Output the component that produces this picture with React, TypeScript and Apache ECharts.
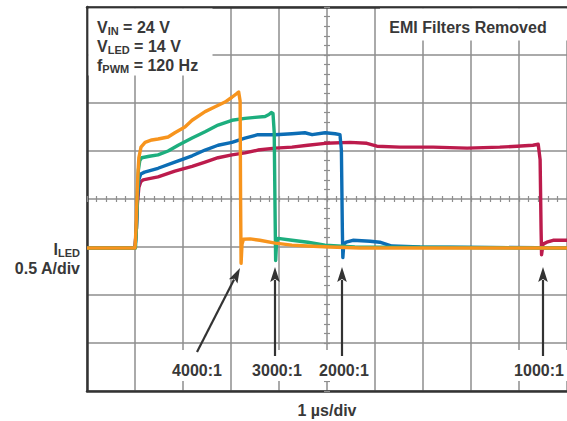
import React, { useEffect, useRef } from "react";
import * as echarts from "echarts";

// time in µs, current in A (0.5 A/div, 1 µs/div)
const orangeTrace: number[][] = [
  [0, -0.01], [1.0, -0.01], [1.02, 0.18], [1.04, 0.49], [1.06, 0.75], [1.08, 0.93], [1.125, 1.04],
  [1.21, 1.09], [1.35, 1.115], [1.48, 1.125], [1.69, 1.146], [1.83, 1.19], [2.04, 1.25], [2.19, 1.32],
  [2.46, 1.41], [2.67, 1.46], [2.875, 1.51], [3.02, 1.56], [3.125, 1.6], [3.16, 1.615], [3.19, 1.52],
  [3.2, 0.49], [3.21, -0.17], [3.23, 0.03], [3.26, 0.08], [3.4, 0.085], [3.6, 0.07], [3.92, 0.04],
  [4.27, 0.02], [4.6, 0.01], [5.06, 0], [5.69, -0.01], [10, -0.01],
];
const greenTrace: number[][] = [
  [0, -0.01], [1.01, -0.01], [1.03, 0.2], [1.05, 0.55], [1.07, 0.8], [1.1, 0.9], [1.14, 0.93],
  [1.3, 0.945], [1.48, 0.96], [1.69, 1.0], [1.9, 1.06], [2.19, 1.135], [2.46, 1.2], [2.73, 1.27],
  [3.02, 1.32], [3.29, 1.34], [3.5, 1.35], [3.71, 1.36], [3.79, 1.38], [3.84, 1.4], [3.875, 1.39],
  [3.9, 1.2], [3.92, 0.28], [3.93, -0.14], [3.95, 0.05], [3.98, 0.09], [4.27, 0.07], [4.6, 0.05],
  [4.96, 0.02], [5.58, 0], [10, -0.01],
];
const blueTrace: number[][] = [
  [0, -0.01], [1.0, -0.01], [1.03, 0.2], [1.05, 0.5], [1.08, 0.7], [1.12, 0.76], [1.2, 0.78],
  [1.48, 0.82], [1.83, 0.885], [2.19, 0.95], [2.46, 1.01], [2.73, 1.06], [3.02, 1.09], [3.29, 1.135],
  [3.56, 1.17], [3.92, 1.17], [4.27, 1.18], [4.54, 1.19], [4.69, 1.17], [4.96, 1.19], [5.17, 1.18],
  [5.27, 1.17], [5.3, 1.01], [5.32, 0.18], [5.33, -0.11], [5.35, 0.03], [5.4, 0.05], [5.54, 0.07],
  [5.9, 0.06], [6.1, 0.05], [6.35, 0.01], [6.94, 0], [10, -0.01],
];
const redTrace: number[][] = [
  [0, -0.01], [1.0, -0.01], [1.03, 0.2], [1.05, 0.45], [1.08, 0.62], [1.12, 0.68], [1.17, 0.7],
  [1.27, 0.71], [1.48, 0.73], [1.83, 0.79], [2.19, 0.84], [2.46, 0.885], [2.73, 0.93], [3.02, 0.96],
  [3.29, 0.98], [3.56, 1.01], [3.92, 1.03], [4.27, 1.04], [4.6, 1.06], [4.96, 1.08], [5.48, 1.09],
  [5.83, 1.08], [6.04, 1.05], [6.52, 1.04], [7.21, 1.04], [7.92, 1.03], [8.6, 1.04], [8.96, 1.05],
  [9.29, 1.06], [9.4, 1.07], [9.44, 0.91], [9.46, 0.18], [9.47, -0.08], [9.5, 0.03], [9.58, 0.05],
  [9.71, 0.07], [10, 0.07],
];

const ratioLabels = ["4000:1", "3000:1", "2000:1", "1000:1"];
const infoMain = ["V", "V", "f"];
const infoSub = ["IN", "LED", "PWM"];
const infoValue = [" = 24 V", " = 14 V", " = 120 Hz"];
const titleText = "EMI Filters Removed";
const xAxisTitle = "1 µs/div";
const yAxisTitleMain = "I";
const yAxisTitleSub = "LED";
const yAxisScale = "0.5 A/div";

const COLORS = { orange: "#F7941D", green: "#1DAE7E", blue: "#0C6DB5", red: "#BC1B4C" };

export default function App() {
  const ref = useRef<HTMLDivElement>(null);
  useEffect(() => {
    const chart = echarts.init(ref.current!, null, { renderer: "svg" });
    const font = "'Liberation Sans', Arial, Helvetica, sans-serif";
    const textColor = "#383838";
    const gridColor = "#8e8e8e";
    const frame = "#333333";
    const hidden = { axisLabel: { show: false }, splitLine: { show: false } };

    const xBase = { type: "value", min: 0, max: 10 };
    const yBase = { type: "value", min: -1.5, max: 2.5 };
    const tickStyle = { color: gridColor, width: 1.2 };

    const richText = (main: string, sub: string, val: string) => ({
      text: `{m|${main}}{s|${sub}}{m|${val}}`,
      rich: {
        m: { fontSize: 16, fontWeight: "bold", fontFamily: font, fill: textColor, lineHeight: 19 },
        s: { fontSize: 11, fontWeight: "bold", fontFamily: font, fill: textColor, lineHeight: 11, verticalAlign: "bottom" },
      },
    });

    const labelStyle = (text: string, align = "center") => ({
      text,
      fontSize: 16,
      fontWeight: "bold",
      fontFamily: font,
      fill: textColor,
      align,
      verticalAlign: "middle",
    });

    const ratioX = [197, 277, 344, 539];
    const arrows = [
      { from: [197, 352], to: [240, 268] },
      { from: [275, 356], to: [275, 267] },
      { from: [342, 356], to: [342, 267] },
      { from: [543, 356], to: [543, 267] },
    ];

    const arrowGraphics: any[] = [];
    arrows.forEach((a) => {
      const dx = a.to[0] - a.from[0];
      const dy = a.to[1] - a.from[1];
      const len = Math.hypot(dx, dy);
      const ux = dx / len, uy = dy / len;
      const headLen = 15, headHalf = 4.8;
      const bx = a.to[0] - ux * headLen, by = a.to[1] - uy * headLen;
      const px = -uy * headHalf, py = ux * headHalf;
      arrowGraphics.push({
        type: "line",
        z: 20,
        shape: { x1: a.from[0], y1: a.from[1], x2: bx + ux * 2, y2: by + uy * 2 },
        style: { stroke: frame, lineWidth: 2.2 },
      });
      arrowGraphics.push({
        type: "polygon",
        z: 20,
        shape: { points: [[a.to[0], a.to[1]], [bx + px, by + py], [bx + ux * 3, by + uy * 3], [bx - px, by - py]] },
        style: { fill: frame },
      });
    });

    chart.setOption({
      animation: false,
      grid: { left: 87, top: 7, width: 480, height: 384, show: false },
      xAxis: [
        {
          ...xBase, interval: 1, position: "bottom",
          axisLine: { show: true, onZero: false, lineStyle: { color: frame, width: 2.5 } },
          axisTick: { show: false }, axisLabel: { show: false },
          splitLine: { show: true, lineStyle: { color: gridColor, width: 1.5 } },
        },
        {
          ...xBase, interval: 1, position: "top",
          axisLine: { show: true, onZero: false, lineStyle: { color: frame, width: 2.5 } },
          axisTick: { show: false }, ...hidden,
        },
        {
          ...xBase, interval: 0.2, position: "bottom", offset: -192,
          axisLine: { show: false, onZero: false },
          axisTick: { show: true, inside: true, length: 3, lineStyle: tickStyle }, ...hidden,
        },
        {
          ...xBase, interval: 0.2, position: "bottom", offset: -192,
          axisLine: { show: false, onZero: false },
          axisTick: { show: true, inside: false, length: 3, lineStyle: tickStyle }, ...hidden,
        },
      ],
      yAxis: [
        {
          ...yBase, interval: 0.5, position: "left",
          axisLine: { show: true, onZero: false, lineStyle: { color: frame, width: 2.5 } },
          axisTick: { show: false }, axisLabel: { show: false },
          splitLine: { show: true, lineStyle: { color: gridColor, width: 1.5 } },
        },
        {
          ...yBase, interval: 0.1, position: "left", offset: -240,
          axisLine: { show: false, onZero: false },
          axisTick: { show: true, inside: true, length: 3, lineStyle: tickStyle }, ...hidden,
        },
        {
          ...yBase, interval: 0.1, position: "left", offset: -240,
          axisLine: { show: false, onZero: false },
          axisTick: { show: true, inside: false, length: 3, lineStyle: tickStyle }, ...hidden,
        },
      ],
      series: [
        { name: "1000:1", data: redTrace, color: COLORS.red },
        { name: "2000:1", data: blueTrace, color: COLORS.blue },
        { name: "3000:1", data: greenTrace, color: COLORS.green },
        { name: "4000:1", data: orangeTrace, color: COLORS.orange },
      ].map((s, i) => ({
        type: "line",
        name: s.name,
        data: s.data,
        xAxisIndex: 0,
        yAxisIndex: 0,
        showSymbol: false,
        symbol: "none",
        z: 3 + i,
        lineStyle: { color: s.color, width: 3.4, join: "round" },
        itemStyle: { color: s.color },
      })),
      graphic: [
        { type: "rect", z: 10, shape: { x: 88.5, y: 8.5, width: 124, height: 67 }, style: { fill: "#fff" } },
        { type: "rect", z: 10, shape: { x: 380, y: 8.5, width: 190, height: 32 }, style: { fill: "#fff" } },
        ...infoMain.map((m, i) => ({
          type: "text", z: 11, x: 97, y: 27 + i * 19,
          style: { ...richText(m, infoSub[i], infoValue[i]), align: "left", verticalAlign: "middle" },
        })),
        { type: "text", z: 11, x: 468, y: 27, style: labelStyle(titleText) },
        {
          type: "text", z: 11, x: 80, y: 249,
          style: { ...richText(yAxisTitleMain, yAxisTitleSub, ""), align: "right", verticalAlign: "middle" },
        },
        { type: "text", z: 11, x: 80, y: 268, style: labelStyle(yAxisScale, "right") },
        ...ratioLabels.map((t, i) => ({
          type: "rect", z: 10, shape: { x: ratioX[i] - 28, y: 350, width: 56, height: 31 }, style: { fill: "#fff" },
        })),
        ...ratioLabels.map((t, i) => ({
          type: "text", z: 11, x: ratioX[i], y: 370, style: labelStyle(t),
        })),
        { type: "text", z: 11, x: 327, y: 410, style: labelStyle(xAxisTitle) },
        ...arrowGraphics,
      ],
    });
    return () => chart.dispose();
  }, []);
  return <div ref={ref} style={{ position: "absolute", left: 0, top: 0, width: 567, height: 421, background: "#fff" }} />;
}
